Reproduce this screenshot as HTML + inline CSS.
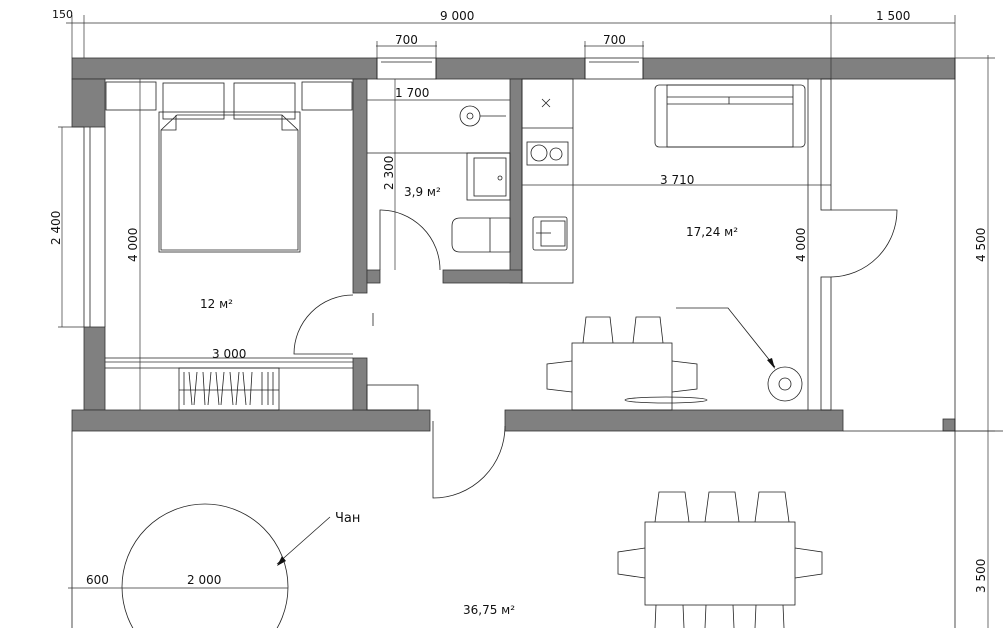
<!DOCTYPE html>
<html><head><meta charset="utf-8"><style>
html,body{margin:0;padding:0;background:#fff;width:1003px;height:628px;overflow:hidden;}
svg{display:block;}
text{font-family:"DejaVu Sans","Liberation Sans",sans-serif;font-size:12px;fill:#111;}
</style></head><body>
<svg width="1003" height="628" viewBox="0 0 1003 628" xmlns="http://www.w3.org/2000/svg">
<g fill="#808080" stroke="#333" stroke-width="0.8">
<rect x="72" y="58" width="305" height="21"/>
<rect x="436" y="58" width="149" height="21"/>
<rect x="643" y="58" width="312" height="21"/>
<rect x="72" y="79" width="33" height="48"/>
<rect x="84" y="327" width="21" height="83"/>
<rect x="72" y="410" width="358" height="21"/>
<rect x="505" y="410" width="338" height="21"/>
<rect x="353" y="79" width="14" height="214"/>
<rect x="353" y="358" width="14" height="52"/>
<rect x="510" y="79" width="12" height="204"/>
<rect x="443" y="270" width="79" height="13"/>
<rect x="367" y="270" width="13" height="13"/>
<rect x="943" y="419" width="12" height="12"/>
</g>
<g fill="none" stroke="#222" stroke-width="0.8">
<rect x="377" y="58" width="59" height="21"/><line x1="381" y1="62" x2="432" y2="62"/>
<rect x="585" y="58" width="58" height="21"/><line x1="589" y1="62" x2="639" y2="62"/>
<line x1="84" y1="127" x2="84" y2="327"/><line x1="90" y1="127" x2="90" y2="327"/><line x1="105" y1="127" x2="105" y2="327"/>
<line x1="808" y1="79" x2="808" y2="410"/>
<rect x="821" y="79" width="10" height="131"/>
<rect x="821" y="277" width="10" height="133"/>
<path d="M831 210 H897 A67 67 0 0 1 831 277"/>
<line x1="955" y1="58" x2="955" y2="628"/>
<line x1="843" y1="431" x2="1003" y2="431"/>
<line x1="72" y1="431" x2="72" y2="628"/>
<rect x="106" y="82" width="50" height="28"/><rect x="302" y="82" width="50" height="28"/>
<rect x="163" y="83" width="61" height="36"/><rect x="234" y="83" width="61" height="36"/>
<rect x="159" y="112" width="141" height="140"/>
<path d="M161 130 V250 H298 V130 L282 115 H177 Z"/>
<path d="M161 130 H176 V115 M298 130 H282 V115"/>
<line x1="105" y1="358" x2="353" y2="358"/>
<line x1="105" y1="368" x2="353" y2="368"/>
<rect x="179" y="368" width="100" height="42"/>
<line x1="179" y1="390" x2="279" y2="390"/>
<path d="M184 372 V405 M189 372 L192 405 M197 372 L194 405 M203 372 L205 405 M211 372 L208 405 M216 372 L219 405 M224 372 L221 405 M230 372 L233 405 M239 372 L236 405 M243 372 L246 405 M252 372 L250 405 M262 372 V405 M268 372 V405 M273 372 V405"/>
<rect x="367" y="385" width="51" height="25"/>
<path d="M353 354 H294 A59 59 0 0 1 353 295"/>
<line x1="373" y1="313" x2="373" y2="326"/>
<line x1="367" y1="153" x2="510" y2="153"/>
<circle cx="470" cy="116" r="10"/><circle cx="470" cy="116" r="3"/>
<line x1="480" y1="116" x2="506" y2="116"/>
<rect x="467" y="153" width="43" height="47"/><rect x="474" y="158" width="32" height="38"/>
<circle cx="500" cy="178" r="2"/>
<path d="M460 218 H510 V252 H460 Q452 252 452 244 V226 Q452 218 460 218 Z"/>
<line x1="490" y1="218" x2="490" y2="252"/>
<path d="M380 270 V210 A60 60 0 0 1 440 270"/>
<rect x="522" y="79" width="51" height="204"/>
<line x1="522" y1="128" x2="573" y2="128"/>
<path d="M542 99 L550 107 M550 99 L542 107"/>
<rect x="527" y="142" width="41" height="23"/>
<circle cx="539" cy="153" r="8"/><circle cx="556" cy="154" r="6"/>
<rect x="533" y="217" width="34" height="33" rx="2"/><rect x="541" y="221" width="24" height="25"/>
<line x1="536" y1="233" x2="551" y2="233"/>
<rect x="655" y="85" width="150" height="62" rx="4"/>
<rect x="667" y="85" width="126" height="62"/>
<line x1="667" y1="97" x2="793" y2="97"/><line x1="667" y1="104" x2="793" y2="104"/>
<line x1="729" y1="97" x2="729" y2="104"/>
<rect x="572" y="343" width="100" height="67"/>
<path d="M583 343 L586 317 H610 L613 343 M633 343 L636 317 H660 L663 343"/>
<path d="M572 361 L547 364 V389 L572 392 M672 361 L697 364 V389 L672 392"/>
<ellipse cx="666" cy="400" rx="41" ry="3"/>
<circle cx="785" cy="384" r="17"/><circle cx="785" cy="384" r="6"/>
<polyline points="676,308 728,308 775,367"/>
<path d="M433 421 V498 A72 72 0 0 0 505 426"/>
<rect x="645" y="522" width="150" height="83"/>
<path d="M655 522 L659 492 H685 L689 522 M705 522 L709 492 H735 L739 522 M755 522 L759 492 H785 L789 522"/>
<path d="M655 628 L656 605 M683 605 L684 628 M705 628 L706 605 M733 605 L734 628 M755 628 L756 605 M783 605 L784 628"/>
<path d="M645 548 L618 552 V574 L645 578 M795 548 L822 552 V574 L795 578"/>
<circle cx="205" cy="587" r="83"/>
<line x1="330" y1="517" x2="277" y2="564"/>
</g>
<polygon points="277,566 282,556 286,561" fill="#111"/>
<polygon points="775,369 767,360 772,358" fill="#111"/>
<g fill="none" stroke="#333" stroke-width="0.7">
<line x1="66" y1="23" x2="955" y2="23"/>
<line x1="72" y1="15" x2="72" y2="58"/><line x1="84" y1="15" x2="84" y2="58"/>
<line x1="831" y1="15" x2="831" y2="79"/><line x1="955" y1="15" x2="955" y2="58"/>
<line x1="376" y1="46" x2="437" y2="46"/><line x1="377" y1="41" x2="377" y2="58"/><line x1="436" y1="41" x2="436" y2="58"/>
<line x1="584" y1="46" x2="644" y2="46"/><line x1="585" y1="41" x2="585" y2="58"/><line x1="643" y1="41" x2="643" y2="58"/>
<line x1="955" y1="58" x2="995" y2="58"/><line x1="988" y1="55" x2="988" y2="628"/>
<line x1="955" y1="431" x2="995" y2="431"/>
<line x1="62" y1="127" x2="62" y2="327"/><line x1="58" y1="127" x2="84" y2="127"/><line x1="58" y1="327" x2="84" y2="327"/>
<line x1="140" y1="79" x2="140" y2="410"/>
<line x1="367" y1="100" x2="510" y2="100"/>
<line x1="395" y1="79" x2="395" y2="270"/>
<line x1="522" y1="185" x2="831" y2="185"/>
<line x1="105" y1="362" x2="353" y2="362"/>
<line x1="68" y1="588" x2="288" y2="588"/>
</g>
<g>
<text x="52" y="18" style="font-size:11px">150</text>
<text x="440" y="20">9 000</text>
<text x="876" y="20">1 500</text>
<text x="395" y="44">700</text>
<text x="603" y="44">700</text>
<text x="395" y="97">1 700</text>
<text x="660" y="184">3 710</text>
<text x="212" y="358">3 000</text>
<text x="86" y="584">600</text>
<text x="187" y="584">2 000</text>
<text x="404" y="196">3,9 м²</text>
<text x="200" y="308">12 м²</text>
<text x="686" y="236">17,24 м²</text>
<text x="463" y="614">36,75 м²</text>
<text x="335" y="522" style="font-size:13px">Чан</text>
<text transform="translate(60,245) rotate(-90)">2 400</text>
<text transform="translate(137,262) rotate(-90)">4 000</text>
<text transform="translate(393,190) rotate(-90)">2 300</text>
<text transform="translate(805,262) rotate(-90)">4 000</text>
<text transform="translate(985,262) rotate(-90)">4 500</text>
<text transform="translate(985,593) rotate(-90)">3 500</text>
</g>
</svg>
</body></html>
